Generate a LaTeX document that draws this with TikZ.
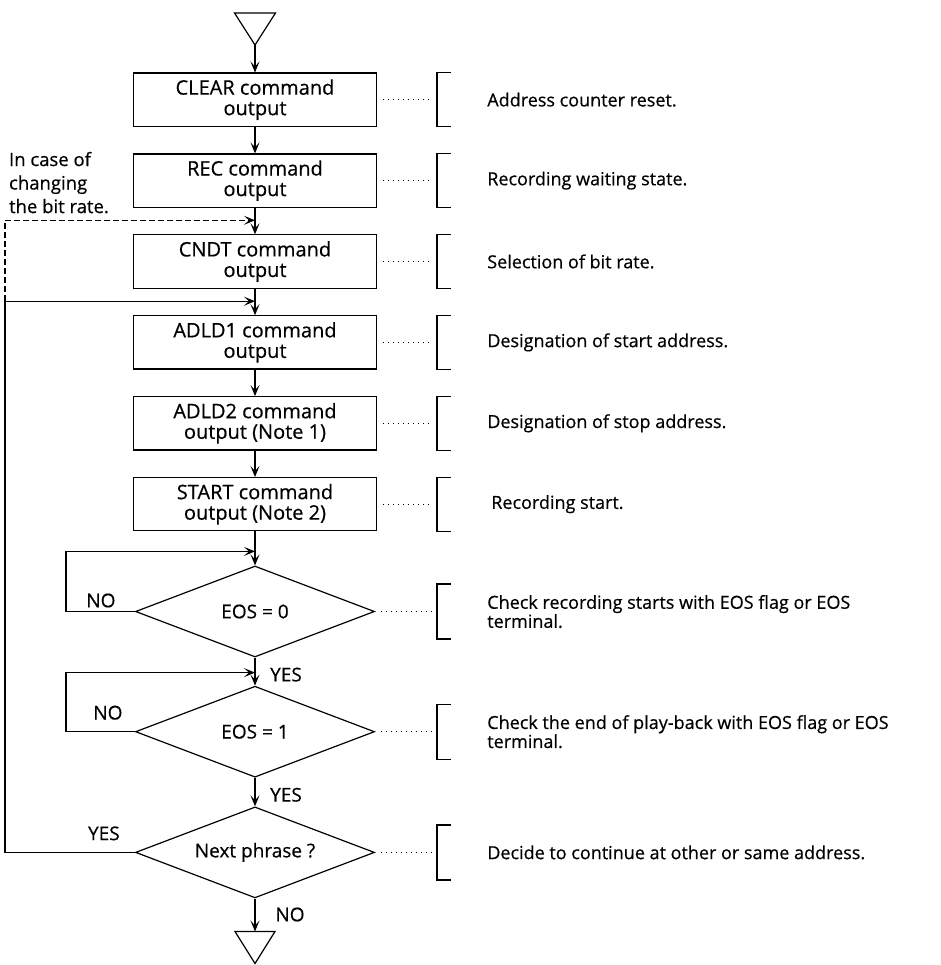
\documentclass[tikz,border=0pt]{standalone}
\usepackage{fontspec}
\setmainfont{Open Sans}[UprightFeatures={FakeBold=0.5}]
\usetikzlibrary{positioning, shapes.geometric, arrows.meta}

\begin{document}
\begin{tikzpicture}[x=1pt, y=1pt, node distance=26.5pt,
		font=\fontsize{19}{20}\selectfont,
		cmd/.style={draw, line width=1.2pt, minimum width=243pt, minimum height=53.2pt, inner sep=0pt, align=center, font=\fontsize{20}{20.5}\selectfont},
		test/.style={draw, diamond, aspect=2.6, line width=1.2pt, minimum width=239pt, minimum height=91pt, inner sep=0pt},
		note/.style={inner sep=0pt, align=left, font=\fontsize{18}{15.5}\selectfont},
		flow/.style={line width=1.2pt, -{Stealth[length=11pt, width=9pt, inset=5pt]}},
		dots/.style={line width=1.3pt, dash pattern=on 1.3pt off 3.7pt},
		brk/.style={line width=1.2pt}]
		\useasboundingbox (0,0) rectangle (940,-965);
		
		% start / end marks
		\coordinate (in) at (255,-45);
		\draw[brk] (in) -- ++(-20.5,32) -- ++(41,0) -- cycle;
		
		\node[cmd, below=27.5pt of in] (clr) {CLEAR command\\output};
		\node[cmd, below=of clr] (rec) {REC command\\output};
		\node[cmd, below=of rec] (cndt) {CNDT command\\output};
		\node[cmd, below=of cndt] (adl1) {ADLD1 command\\output};
		\node[cmd, below=of adl1] (adl2) {ADLD2 command\\output (Note 1)};
		\node[cmd, below=of adl2] (start) {START command\\output (Note 2)};
		\node[test, below=34pt of start] (eos0) {EOS = 0};
		\node[test, below=28pt of eos0] (eos1) {EOS = 1};
		\node[test, below=28.5pt of eos1] (next) {Next phrase ?};
		\coordinate[below=33pt of next] (out);
		\draw[brk] (out) -- ++(20,0) -- ++(-20,-32) -- ++(-20,32) -- cycle;
		
		% main flow
		\draw[flow] (in) -- (clr);
		\foreach \a/\b in {clr/rec, rec/cndt, cndt/adl1, adl1/adl2, adl2/start, start/eos0, eos0/eos1, eos1/next}
			\draw[flow] (\a) -- (\b);
		\draw[flow] (next) -- (out);
		
		% loops
		\coordinate (back) at ([xshift=-130pt]next.west);
		\draw[flow] (eos0.west) -- ++(-69,0) |- ([yshift=14pt]eos0.north);
		\draw[flow] (eos1.west) -- ++(-69,0) |- ([yshift=13pt]eos1.north);
		\draw[flow] (next.west) -- (back) |- ([yshift=14pt]adl1.north);
		\draw[flow, dash pattern=on 6pt off 3pt] ([yshift=14pt]adl1.north -| back) |- ([yshift=14pt]cndt.north);
		
		\node (no0) at ([xshift=-34pt, yshift=11pt]eos0.west) {NO};
		\node (no1) at ([xshift=-27pt, yshift=19pt]eos1.west) {NO};
		\node (yes0) at ([xshift=31pt, yshift=-17pt]eos0.south) {YES};
		\node (yes1) at ([xshift=31pt, yshift=-17pt]eos1.south) {YES};
		\node (yes2) at ([xshift=-31pt, yshift=19pt]next.west) {YES};
		\node (no2) at ([xshift=35pt, yshift=-16pt]next.south) {NO};
		\node[note, anchor=west, font=\fontsize{18.5}{23.5}\selectfont] (why) at ([xshift=-124pt, yshift=-2pt]rec.west) {In case of\\changing\\the bit rate.};
		
		% comments on the right
		\node[note, right=110pt of clr] (c1) {Address counter reset.};
		\node[note, right=110pt of rec] (c2) {Recording waiting state.};
		\node[note, right=110pt of cndt] (c3) {Selection of bit rate.};
		\node[note, right=110pt of adl1] (c4) {Designation of start address.};
		\node[note, right=110pt of adl2] (c5) {Designation of stop address.};
		\node[note, right=114pt of start] (c6) {Recording start.};
		\node[note, right=112pt of eos0] (c7) {Check recording starts with EOS flag or EOS\\terminal.};
		\node[note, right=112pt of eos1] (c8) {Check the end of play-back with EOS flag or EOS\\terminal.};
		\node[note, right=112pt of next] (c9) {Decide to continue at other or same address.};
		
		\coordinate (bk) at (437,0);
		\foreach \n/\h in {clr/27, rec/27, cndt/27, adl1/27, adl2/27, start/27, eos0/27.5, eos1/27.5, next/27.5}{
			\draw[dots] ([xshift=6pt]\n.east) -- ([xshift=-5pt]\n.east -| bk);
			\draw[brk] ([xshift=14pt, yshift=\h pt]\n.east -| bk) -- ++(-14,0) -- ++(0,-2*\h) -- ++(14,0);
		}
	\end{tikzpicture}
\end{document}
